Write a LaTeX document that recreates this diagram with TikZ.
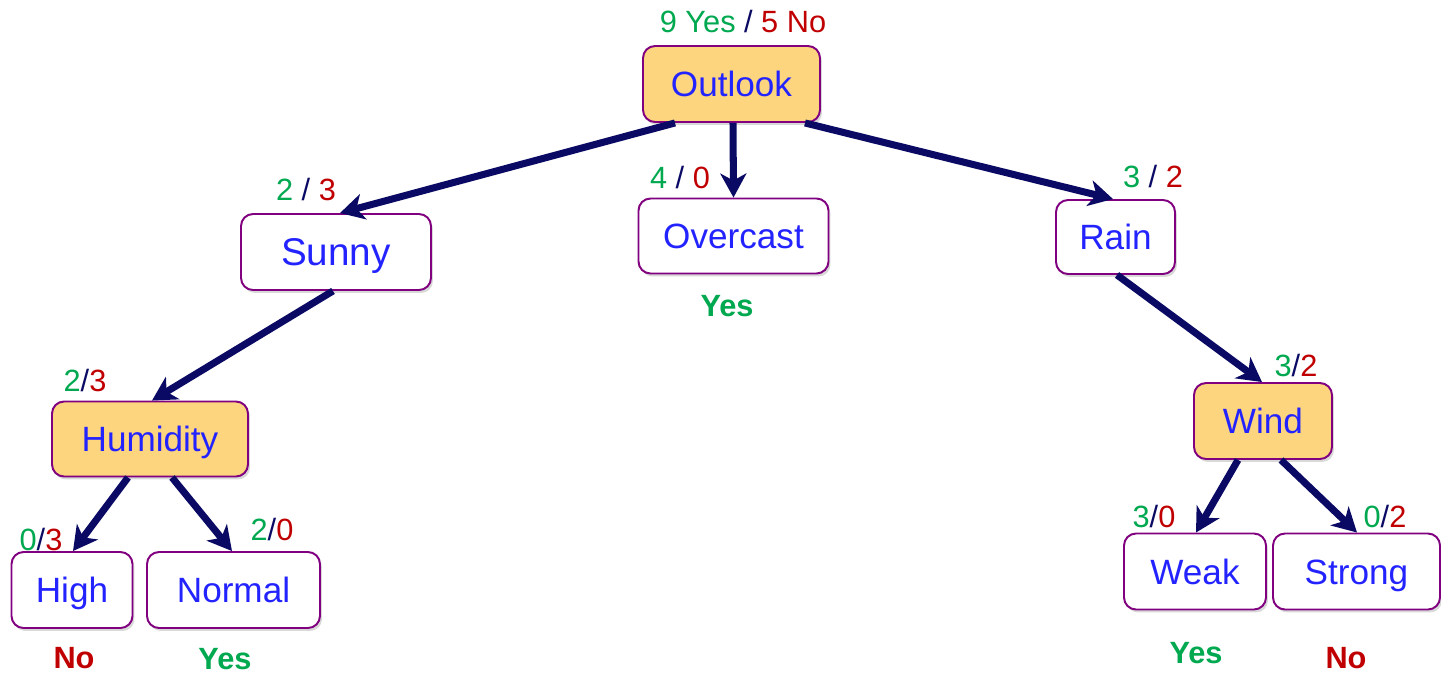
\documentclass[tikz,border=0pt]{standalone}
\usepackage{fontspec}
\setmainfont{Liberation Sans}
\usetikzlibrary{arrows.meta,shadows}
\definecolor{attrfill}{RGB}{253,213,126}
\definecolor{boxline}{RGB}{128,0,128}
\definecolor{txtblue}{RGB}{35,35,255}
\definecolor{yesgreen}{RGB}{0,168,80}
\definecolor{nored}{RGB}{192,0,0}
\definecolor{navy}{RGB}{10,10,100}
% yes/no tally, optional spacing round the slash
\newcommand{\yn}[3][]{\textcolor{yesgreen}{#2}#1\textcolor{navy}{/}#1\textcolor{nored}{#3}}

\begin{document}
\begin{tikzpicture}[x=0.02cm, y=-0.02cm,
	box/.style={draw=boxline, line width=1.1pt, rounded corners=0.24cm, text=txtblue,
		font=\fontsize{20}{24}\selectfont, inner sep=0pt, minimum height=1.52cm,
		text height=14.3pt, text depth=0pt,
		drop shadow={shadow xshift=0.04cm, shadow yshift=-0.06cm, opacity=0.25, fill=black!60}},
	attr/.style={box, fill=attrfill},
	val/.style={box, fill=white},
	tally/.style={font=\fontsize{17.5}{21}\selectfont, inner sep=0pt},
	leaf/.style={font=\fontsize{17.5}{21}\selectfont\bfseries, inner sep=0pt, anchor=base},
	branch/.style={draw=navy, line width=4pt, -{Stealth[length=0.48cm, width=0.52cm, inset=0.14cm]}}]
	\useasboundingbox (0,0) rectangle (1441,673);

	\node[attr, minimum width=3.54cm] (outlook) at (731.5, 84) {Outlook};
	\node[val, minimum width=3.8cm, font=\fontsize{22}{26}\selectfont, text height=15.8pt] (sunny) at (336, 252) {Sunny};
	\node[val, minimum width=3.8cm, minimum height=1.5cm] (overcast) at (733.5, 236) {Overcast};
	\node[val, minimum width=2.38cm, minimum height=1.48cm] (rain) at (1115.5, 237) {Rain};

	\node[attr, minimum width=3.92cm, minimum height=1.5cm] (humidity) at (150, 439) {Humidity};
	\node[val, minimum width=2.42cm] (high) at (72, 590) {High};
	\node[val, minimum width=3.46cm] (normal) at (233.5, 590) {Normal};

	\node[attr, minimum width=2.76cm] (wind) at (1263, 421) {Wind};
	\node[val, minimum width=2.84cm] (weak) at (1195, 571.5) {Weak};
	\node[val, minimum width=3.34cm] (strong) at (1356.5, 571.5) {Strong};

	% counts above each node
	\node[tally] (t-outlook) at (743, 22) {\textcolor{yesgreen}{9 Yes} \textcolor{navy}{/} \textcolor{nored}{5 No}};
	\node[tally] (t-sunny) at (306, 190) {\yn[\ ]{2}{3}};
	\node[tally] (t-overcast) at (680, 178) {\yn[\ ]{4}{0}};
	\node[tally] (t-rain) at (1153, 177) {\yn[\ ]{3}{2}};
	\node[tally] (t-humidity) at (85, 381) {\yn{2}{3}};
	\node[tally] (t-high) at (41, 540) {\yn{0}{3}};
	\node[tally] (t-normal) at (272, 530) {\yn{2}{0}};
	\node[tally] (t-wind) at (1296, 366) {\yn{3}{2}};
	\node[tally] (t-weak) at (1154, 517) {\yn{3}{0}};
	\node[tally] (t-strong) at (1385, 517) {\yn{0}{2}};

	% decisions
	\node[leaf, text=yesgreen] (l-overcast) at (727, 316) {Yes};
	\node[leaf, text=nored] (l-high) at (74, 668) {No};
	\node[leaf, text=yesgreen] (l-normal) at (225, 669) {Yes};
	\node[leaf, text=yesgreen] (l-weak) at (1196, 663) {Yes};
	\node[leaf, text=nored] (l-strong) at (1346, 668) {No};

	\draw[branch] ([xshift=-1.13cm]outlook.south) -- ([xshift=0.08cm]sunny.north);
	\draw[branch] ([xshift=0.03cm]outlook.south) -- (overcast.north);
	\draw[branch] ([xshift=1.47cm]outlook.south) -- ([xshift=-0.05cm]rain.north);
	\draw[branch] ([xshift=-0.06cm]sunny.south) -- ([xshift=0.04cm]humidity.north);
	\draw[branch] ([xshift=0.03cm]rain.south) -- ([xshift=-0.02cm]wind.north);
	\draw[branch] ([xshift=-0.44cm]humidity.south) -- ([xshift=0.02cm]high.north);
	\draw[branch] ([xshift=0.44cm]humidity.south) -- ([xshift=-0.03cm]normal.north);
	\draw[branch] ([xshift=-0.5cm]wind.south) -- ([xshift=0.02cm]weak.north);
	\draw[branch] ([xshift=0.36cm]wind.south) -- ([xshift=0.01cm]strong.north);
\end{tikzpicture}
\end{document}
